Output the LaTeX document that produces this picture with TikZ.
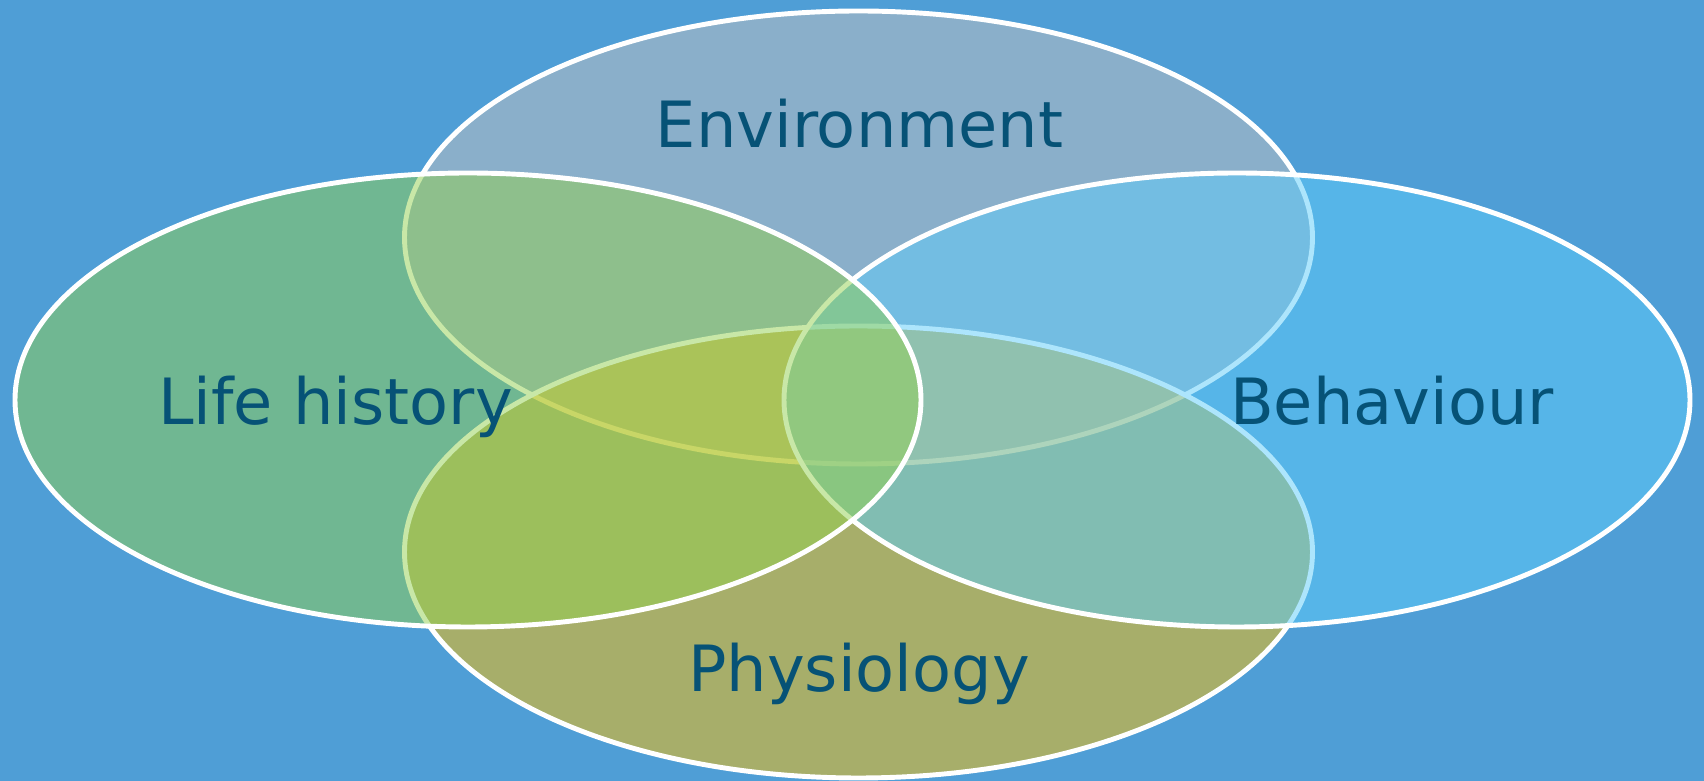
\documentclass[tikz,border=0pt]{standalone}
\usepackage{fontspec}
\setmainfont{DejaVu Sans}
\usetikzlibrary{positioning}
\definecolor{bgblue}{RGB}{79,158,214}
\definecolor{envgrey}{RGB}{197,192,192}
\definecolor{physorange}{RGB}{255,190,0}
\definecolor{behblue}{RGB}{93,204,250}
\definecolor{lifegreen}{RGB}{146,208,80}
\definecolor{textteal}{RGB}{6,82,118}
\tikzset{
  vennset/.style={
    draw=white,
    line width=2.8pt,
    fill opacity=0.5
  },
  vennlabel/.style={
    anchor=base,
    inner sep=0pt,
    text=textteal,
    font=\fontsize{36.3}{40}\selectfont
  }
}

\begin{document}
\begin{tikzpicture}
        \fill[bgblue] (0,0) rectangle (34.08,15.62);
        \useasboundingbox (0,0) rectangle (34.08,15.62);
        % the four sets, back to front
        \path[vennset, fill=envgrey] (17.17,10.87) ellipse [x radius=9.08cm, y radius=4.53cm];
        \path[vennset, fill=physorange] (17.17,4.58) ellipse [x radius=9.08cm, y radius=4.52cm];
        \path[vennset, fill=behblue] (24.74,7.62) ellipse [x radius=9.06cm, y radius=4.54cm];
        \path[vennset, fill=lifegreen] (9.36,7.62) ellipse [x radius=9.06cm, y radius=4.54cm];
        % names
        \node[vennlabel] (env) at (17.19,12.66) {Environment};
        \node[vennlabel] (life) at (6.71,7.12) {Life history};
        \node[vennlabel] (beh) at (27.84,7.12) {Behaviour};
        \node[vennlabel] (phys) at (17.18,1.78) {Physiology};
      \end{tikzpicture}
\end{document}
